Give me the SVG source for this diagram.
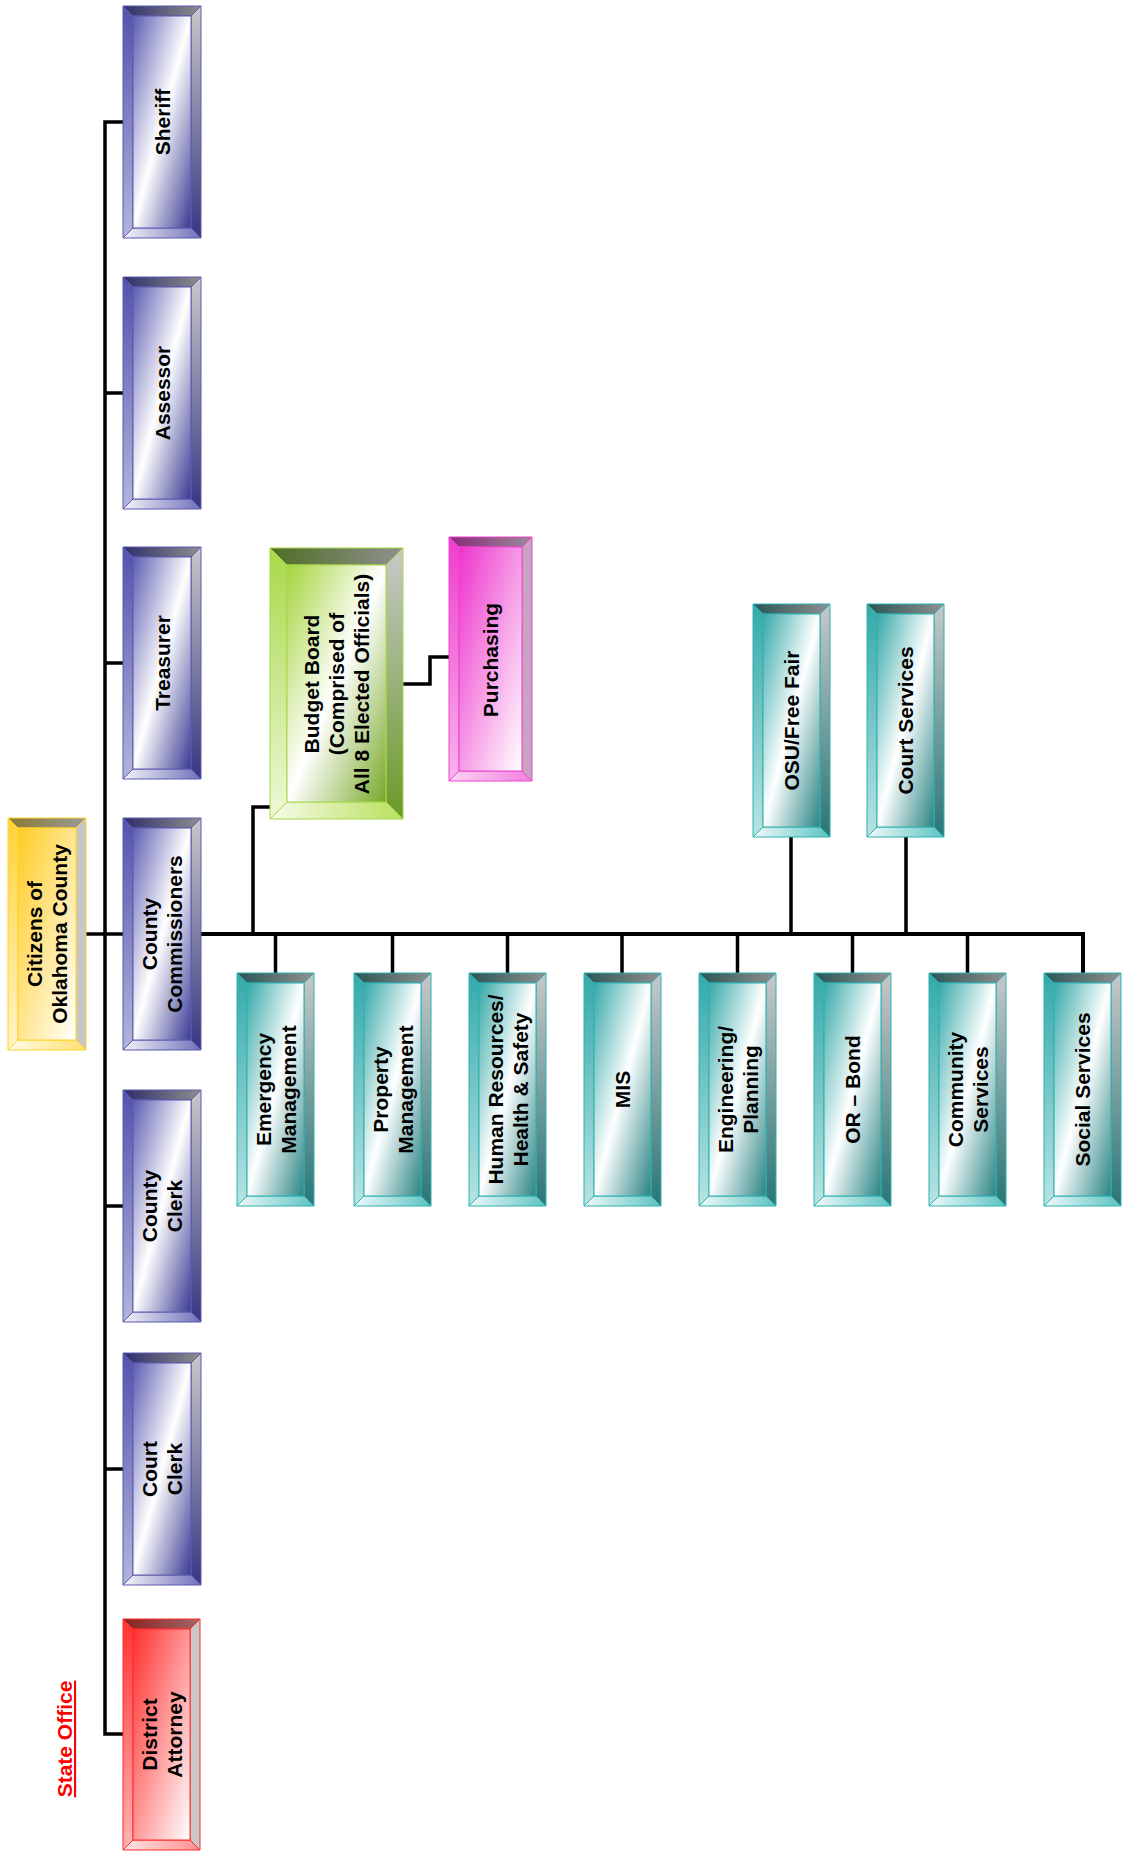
<svg xmlns="http://www.w3.org/2000/svg" xmlns:xlink="http://www.w3.org/1999/xlink" width="1127" height="1854" viewBox="0 0 1127 1854">
<style>
  text { font-family: "Liberation Sans", Arial, sans-serif; font-weight: bold; font-size: 21px; fill: #000; text-anchor: middle; }
  .conn { fill: none; stroke: #000; stroke-width: 3.5; stroke-linejoin: miter; }
  .bus { stroke-width: 4; }
  .state { fill: #ff0000; text-decoration: underline; }
</style>
<defs>
  <!-- blue -->
  <linearGradient id="blue-face" x1="0" y1="0" x2="1" y2="1"><stop offset="0" stop-color="#5c5cb3"/><stop offset="0.5" stop-color="#ffffff"/><stop offset="1" stop-color="#3a3a94"/></linearGradient>
  <linearGradient id="blue-top" x1="0" y1="0" x2="1" y2="0"><stop offset="0" stop-color="#2e2e6c"/><stop offset="1" stop-color="#8e8e8e"/></linearGradient>
  <linearGradient id="blue-left" x1="0" y1="0" x2="0" y2="1"><stop offset="0" stop-color="#5252ae"/><stop offset="1" stop-color="#b4b4dc"/></linearGradient>
  <linearGradient id="blue-right" x1="0" y1="0" x2="0" y2="1"><stop offset="0" stop-color="#c8c8c8"/><stop offset="1" stop-color="#363684"/></linearGradient>
  <linearGradient id="blue-bot" x1="0" y1="0" x2="1" y2="0"><stop offset="0" stop-color="#f4f4fa"/><stop offset="1" stop-color="#7070ba"/></linearGradient>
  <!-- teal -->
  <linearGradient id="teal-face" x1="0" y1="0" x2="1" y2="1"><stop offset="0" stop-color="#36a8a8"/><stop offset="0.5" stop-color="#ffffff"/><stop offset="1" stop-color="#2a8484"/></linearGradient>
  <linearGradient id="teal-top" x1="0" y1="0" x2="1" y2="0"><stop offset="0" stop-color="#2a5656"/><stop offset="1" stop-color="#909090"/></linearGradient>
  <linearGradient id="teal-left" x1="0" y1="0" x2="0" y2="1"><stop offset="0" stop-color="#33a9a9"/><stop offset="1" stop-color="#b8e4e4"/></linearGradient>
  <linearGradient id="teal-right" x1="0" y1="0" x2="0" y2="1"><stop offset="0" stop-color="#c8c8c8"/><stop offset="1" stop-color="#2a7676"/></linearGradient>
  <linearGradient id="teal-bot" x1="0" y1="0" x2="1" y2="0"><stop offset="0" stop-color="#f0fafa"/><stop offset="1" stop-color="#5cc2c2"/></linearGradient>
  <!-- green -->
  <linearGradient id="green-face" x1="0" y1="0" x2="1" y2="1"><stop offset="0" stop-color="#a4d43c"/><stop offset="0.5" stop-color="#ffffff"/><stop offset="1" stop-color="#78a828"/></linearGradient>
  <linearGradient id="green-top" x1="0" y1="0" x2="1" y2="0"><stop offset="0" stop-color="#4e6e22"/><stop offset="1" stop-color="#909090"/></linearGradient>
  <linearGradient id="green-left" x1="0" y1="0" x2="0" y2="1"><stop offset="0" stop-color="#a8d848"/><stop offset="1" stop-color="#eef8d8"/></linearGradient>
  <linearGradient id="green-right" x1="0" y1="0" x2="0" y2="1"><stop offset="0" stop-color="#c8c8c8"/><stop offset="1" stop-color="#6a9a28"/></linearGradient>
  <linearGradient id="green-bot" x1="0" y1="0" x2="1" y2="0"><stop offset="0" stop-color="#f6fbe8"/><stop offset="1" stop-color="#b8e05c"/></linearGradient>
  <!-- yellow -->
  <linearGradient id="yel-face" x1="0" y1="0" x2="1" y2="1"><stop offset="0" stop-color="#ffcc22"/><stop offset="1" stop-color="#ffffff"/></linearGradient>
  <linearGradient id="yel-top" x1="0" y1="0" x2="1" y2="0"><stop offset="0" stop-color="#8c7a30"/><stop offset="1" stop-color="#9a9a9a"/></linearGradient>
  <linearGradient id="yel-left" x1="0" y1="0" x2="0" y2="1"><stop offset="0" stop-color="#ffd23a"/><stop offset="1" stop-color="#fff4c8"/></linearGradient>
  <linearGradient id="yel-bot" x1="0" y1="0" x2="1" y2="0"><stop offset="0" stop-color="#fffbe8"/><stop offset="1" stop-color="#ffe070"/></linearGradient>
  <!-- magenta -->
  <linearGradient id="mag-face" x1="0" y1="0" x2="1" y2="1"><stop offset="0" stop-color="#ee33cc"/><stop offset="1" stop-color="#ffffff"/></linearGradient>
  <linearGradient id="mag-top" x1="0" y1="0" x2="1" y2="0"><stop offset="0" stop-color="#8a2a7a"/><stop offset="1" stop-color="#9a8a98"/></linearGradient>
  <linearGradient id="mag-left" x1="0" y1="0" x2="0" y2="1"><stop offset="0" stop-color="#ef3ccf"/><stop offset="1" stop-color="#f8b4ec"/></linearGradient>
  <linearGradient id="mag-bot" x1="0" y1="0" x2="1" y2="0"><stop offset="0" stop-color="#fbd4f4"/><stop offset="1" stop-color="#f080de"/></linearGradient>
  <!-- red -->
  <linearGradient id="red-face" x1="0" y1="0" x2="1" y2="1"><stop offset="0" stop-color="#ff2e2e"/><stop offset="1" stop-color="#ffffff"/></linearGradient>
  <linearGradient id="red-top" x1="0" y1="0" x2="1" y2="0"><stop offset="0" stop-color="#8a2020"/><stop offset="1" stop-color="#a06868"/></linearGradient>
  <linearGradient id="red-left" x1="0" y1="0" x2="0" y2="1"><stop offset="0" stop-color="#ff3333"/><stop offset="1" stop-color="#ffb4b4"/></linearGradient>
  <linearGradient id="red-bot" x1="0" y1="0" x2="1" y2="0"><stop offset="0" stop-color="#ffe4e4"/><stop offset="1" stop-color="#ff9090"/></linearGradient>

  <g id="bv-blue" stroke="#5a5aae" stroke-width="1">
    <polygon fill="url(#blue-top)" points="0,0 78,0 68,10 10,10"/>
    <polygon fill="url(#blue-left)" points="0,0 10,10 10,222 0,232"/>
    <polygon fill="url(#blue-right)" points="78,0 78,232 68,222 68,10"/>
    <polygon fill="url(#blue-bot)" points="0,232 10,222 68,222 78,232"/>
    <rect fill="url(#blue-face)" x="10" y="10" width="58" height="212"/>
  </g>
  <g id="bv-teal" stroke="#2fb0b0" stroke-width="1">
    <polygon fill="url(#teal-top)" points="0,0 77,0 67,10 10,10"/>
    <polygon fill="url(#teal-left)" points="0,0 10,10 10,223 0,233"/>
    <polygon fill="url(#teal-right)" points="77,0 77,233 67,223 67,10"/>
    <polygon fill="url(#teal-bot)" points="0,233 10,223 67,223 77,233"/>
    <rect fill="url(#teal-face)" x="10" y="10" width="57" height="213"/>
  </g>
</defs>

<rect x="0" y="0" width="1127" height="1854" fill="#ffffff"/>

<g id="connectors">
  <path class="conn" d="M123,122 H105 V1734 H123"/>
  <path class="conn" d="M105,393 H123 M105,663 H123 M105,1206 H123 M105,1469 H123"/>
  <path class="conn" d="M86,934 H123"/>
  <path class="conn bus" d="M201,934 H1083 V973"/>
  <path class="conn" d="M275.5,934 V973 M392.5,934 V973 M507.5,934 V973 M622,934 V973 M737.5,934 V973 M852.5,934 V973 M967.5,934 V973"/>
  <path class="conn" d="M253,934 V807 H270"/>
  <path class="conn" d="M791,934 V837 M906,934 V837"/>
  <path class="conn" d="M403,684 H430 V657 H449"/>
</g>

<g id="citizens">
  <g transform="translate(8,818)" stroke="#ffd42a" stroke-width="1">
    <polygon fill="url(#yel-top)" points="0,0 78,0 68,10 10,10"/>
    <polygon fill="url(#yel-left)" points="0,0 10,10 10,222 0,232"/>
    <polygon fill="#c6c6c6" points="78,0 78,232 68,222 68,10"/>
    <polygon fill="url(#yel-bot)" points="0,232 10,222 68,222 78,232"/>
    <rect fill="url(#yel-face)" x="10" y="10" width="58" height="212"/>
  </g>
  <text transform="translate(47,934) rotate(-90)"><tspan x="0" y="-5">Citizens of</tspan><tspan x="0" y="20">Oklahoma County</tspan></text>
</g>

<g id="sheriff">
  <use href="#bv-blue" xlink:href="#bv-blue" x="123" y="6"/>
  <text transform="translate(162,122) rotate(-90)" y="7.5">Sheriff</text>
</g>
<g id="assessor">
  <use href="#bv-blue" xlink:href="#bv-blue" x="123" y="277"/>
  <text transform="translate(162,393) rotate(-90)" y="7.5">Assessor</text>
</g>
<g id="treasurer">
  <use href="#bv-blue" xlink:href="#bv-blue" x="123" y="547"/>
  <text transform="translate(162,663) rotate(-90)" y="7.5">Treasurer</text>
</g>
<g id="county-commissioners">
  <use href="#bv-blue" xlink:href="#bv-blue" x="123" y="818"/>
  <text transform="translate(162,934) rotate(-90)"><tspan x="0" y="-5">County</tspan><tspan x="0" y="20">Commissioners</tspan></text>
</g>
<g id="county-clerk">
  <use href="#bv-blue" xlink:href="#bv-blue" x="123" y="1090"/>
  <text transform="translate(162,1206) rotate(-90)"><tspan x="0" y="-5">County</tspan><tspan x="0" y="20">Clerk</tspan></text>
</g>
<g id="court-clerk">
  <use href="#bv-blue" xlink:href="#bv-blue" x="123" y="1353"/>
  <text transform="translate(162,1469) rotate(-90)"><tspan x="0" y="-5">Court</tspan><tspan x="0" y="20">Clerk</tspan></text>
</g>

<g id="district-attorney">
  <g transform="translate(123,1619)" stroke="#ff2a2a" stroke-width="1">
    <polygon fill="url(#red-top)" points="0,0 77,0 67,10 10,10"/>
    <polygon fill="url(#red-left)" points="0,0 10,10 10,221 0,231"/>
    <polygon fill="#c8c8c8" points="77,0 77,231 67,221 67,10"/>
    <polygon fill="url(#red-bot)" points="0,231 10,221 67,221 77,231"/>
    <rect fill="url(#red-face)" x="10" y="10" width="57" height="211"/>
  </g>
  <text transform="translate(161.5,1734.5) rotate(-90)"><tspan x="0" y="-5">District</tspan><tspan x="0" y="20">Attorney</tspan></text>
</g>

<g id="state-office">
  <text class="state" transform="translate(72,1739) rotate(-90)">State Office</text>
</g>

<g id="budget-board">
  <g transform="translate(270,548)" stroke="#a6d84a" stroke-width="1">
    <polygon fill="url(#green-top)" points="0,0 133,0 116,17 17,17"/>
    <polygon fill="url(#green-left)" points="0,0 17,17 17,254 0,271"/>
    <polygon fill="url(#green-right)" points="133,0 133,271 116,254 116,17"/>
    <polygon fill="url(#green-bot)" points="0,271 17,254 116,254 133,271"/>
    <rect fill="url(#green-face)" x="17" y="17" width="99" height="237"/>
  </g>
  <text transform="translate(336.5,684) rotate(-90)"><tspan x="0" y="-17.5">Budget Board</tspan><tspan x="0" y="7.5">(Comprised of</tspan><tspan x="0" y="32.5">All 8 Elected Officials)</tspan></text>
</g>

<g id="purchasing">
  <g transform="translate(449,537)" stroke="#ee44cc" stroke-width="1">
    <polygon fill="url(#mag-top)" points="0,0 83,0 73,10 10,10"/>
    <polygon fill="url(#mag-left)" points="0,0 10,10 10,234 0,244"/>
    <polygon fill="#c8a4c2" points="83,0 83,244 73,234 73,10"/>
    <polygon fill="url(#mag-bot)" points="0,244 10,234 73,234 83,244"/>
    <rect fill="url(#mag-face)" x="10" y="10" width="63" height="224"/>
  </g>
  <text transform="translate(490.5,660) rotate(-90)" y="7.5">Purchasing</text>
</g>

<g id="osu-free-fair">
  <use href="#bv-teal" xlink:href="#bv-teal" x="753" y="604"/>
  <text transform="translate(791.5,720.5) rotate(-90)" y="7.5">OSU/Free Fair</text>
</g>
<g id="court-services">
  <use href="#bv-teal" xlink:href="#bv-teal" x="867" y="604"/>
  <text transform="translate(905.5,720.5) rotate(-90)" y="7.5">Court Services</text>
</g>

<g id="emergency-management">
  <use href="#bv-teal" xlink:href="#bv-teal" x="237" y="973"/>
  <text transform="translate(275.5,1089.5) rotate(-90)"><tspan x="0" y="-5">Emergency</tspan><tspan x="0" y="20">Management</tspan></text>
</g>
<g id="property-management">
  <use href="#bv-teal" xlink:href="#bv-teal" x="354" y="973"/>
  <text transform="translate(392.5,1089.5) rotate(-90)"><tspan x="0" y="-5">Property</tspan><tspan x="0" y="20">Management</tspan></text>
</g>
<g id="human-resources">
  <use href="#bv-teal" xlink:href="#bv-teal" x="469" y="973"/>
  <text transform="translate(507.5,1089.5) rotate(-90)"><tspan x="0" y="-5">Human Resources/</tspan><tspan x="0" y="20">Health &amp; Safety</tspan></text>
</g>
<g id="mis">
  <use href="#bv-teal" xlink:href="#bv-teal" x="584" y="973"/>
  <text transform="translate(622.5,1089.5) rotate(-90)" y="7.5">MIS</text>
</g>
<g id="engineering-planning">
  <use href="#bv-teal" xlink:href="#bv-teal" x="699" y="973"/>
  <text transform="translate(737.5,1089.5) rotate(-90)"><tspan x="0" y="-5">Engineering/</tspan><tspan x="0" y="20">Planning</tspan></text>
</g>
<g id="or-bond">
  <use href="#bv-teal" xlink:href="#bv-teal" x="814" y="973"/>
  <text transform="translate(852.5,1089.5) rotate(-90)" y="7.5">OR – Bond</text>
</g>
<g id="community-services">
  <use href="#bv-teal" xlink:href="#bv-teal" x="929" y="973"/>
  <text transform="translate(967.5,1089.5) rotate(-90)"><tspan x="0" y="-5">Community</tspan><tspan x="0" y="20">Services</tspan></text>
</g>
<g id="social-services">
  <use href="#bv-teal" xlink:href="#bv-teal" x="1044" y="973"/>
  <text transform="translate(1082.5,1089.5) rotate(-90)" y="7.5">Social Services</text>
</g>
</svg>
